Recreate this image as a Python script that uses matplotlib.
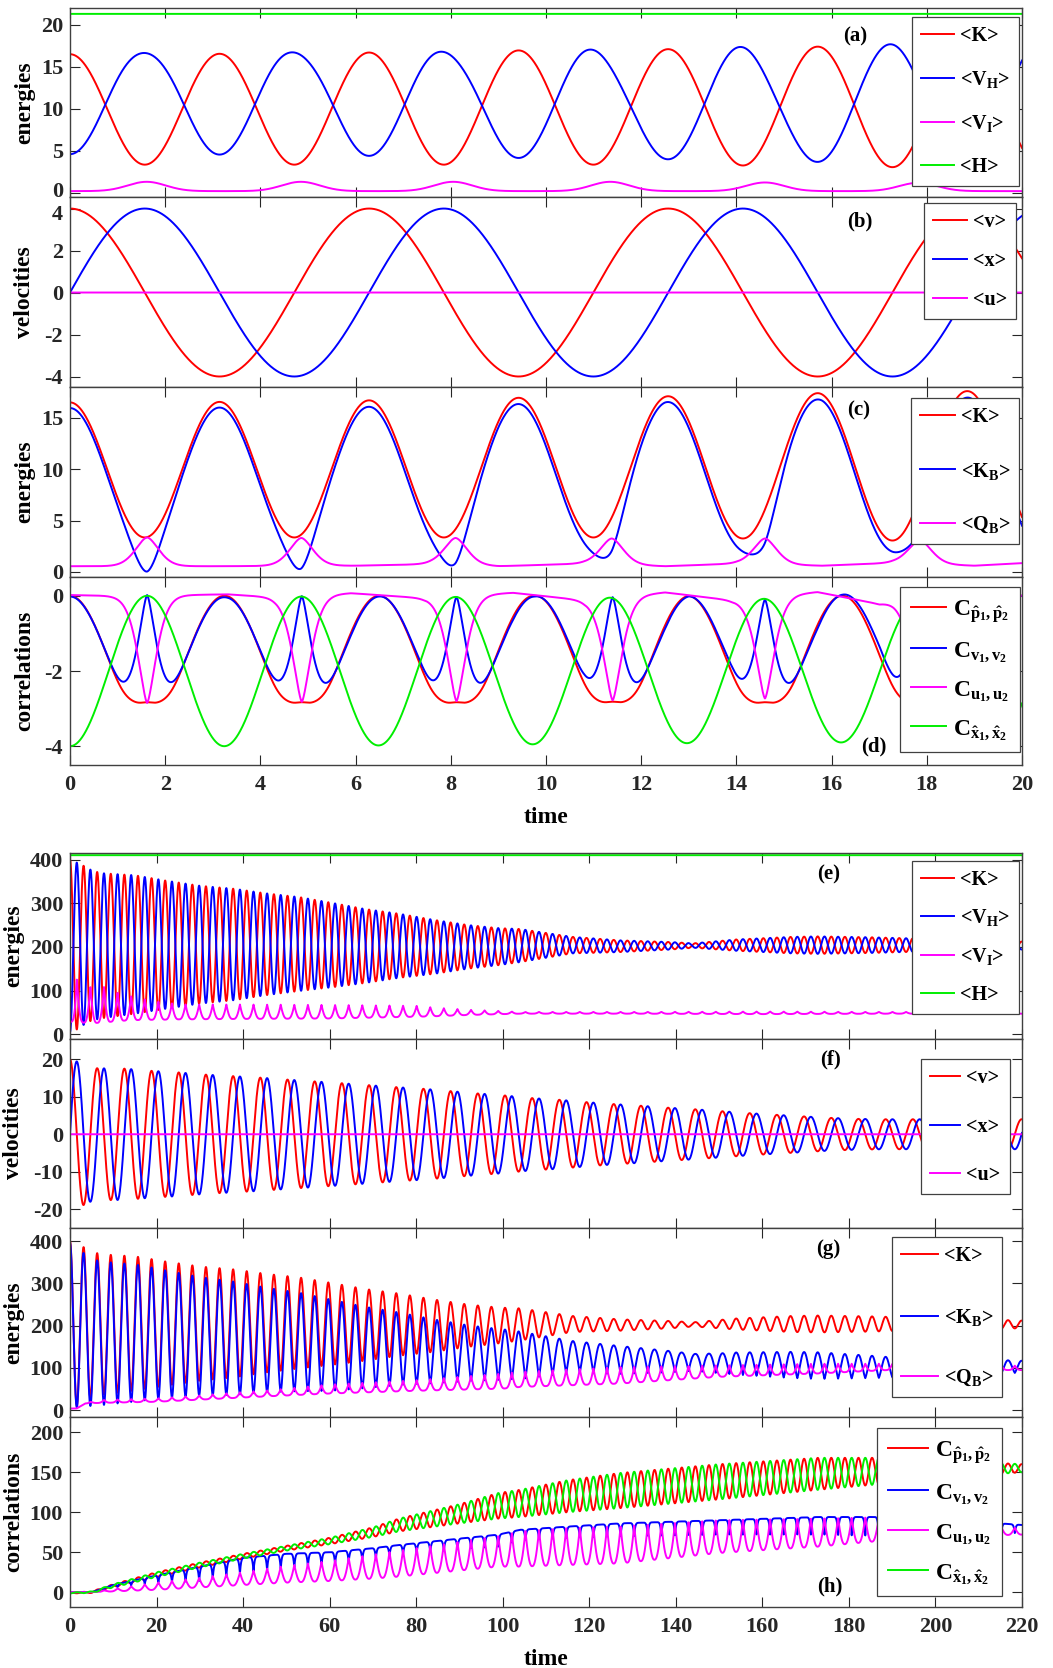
import numpy as np
import matplotlib
matplotlib.use('Agg')
import matplotlib.pyplot as plt
from matplotlib.transforms import ScaledTranslation

plt.rcParams['font.family'] = ['Liberation Serif', 'DejaVu Serif']
plt.rcParams['font.weight'] = 'bold'
plt.rcParams['mathtext.fontset'] = 'custom'
plt.rcParams['mathtext.rm'] = 'Liberation Serif:bold'
plt.rcParams['mathtext.it'] = 'Liberation Serif:bold'
plt.rcParams['mathtext.bf'] = 'Liberation Serif:bold'
plt.rcParams['axes.unicode_minus'] = False

# ================= DATA =================
# ---- top group, t = 0..20 ----
H_top = 21.3
K_top_ext = [16.5, 3.35, 16.55, 3.35, 16.7, 3.35, 16.95, 3.35, 17.1, 3.25, 17.4, 3.05, 17.6, 2.9]  # at k*pi/2
VI_bump_t = [1.61, 4.85, 8.05, 11.35, 14.6, 17.82]
VI_bump_v = [1.31, 1.31, 1.31, 1.31, 1.23, 1.19]
VI_base = 0.2
v_ext = [4.0, -4.0, 4.0, -4.0, 4.0, -4.0, 4.0, -4.0]          # at k*pi
x_ext = [-4.0, 4.0, -4.0, 4.0, -4.0, 4.0, -4.0, 4.0]          # at -pi/2 + k*pi
QB_peak_t = [1.62, 4.86, 8.1, 11.38, 14.6, 17.85]
QB_peak_v = [3.35, 3.3, 3.3, 3.25, 3.25, 3.1]
QB_base_t = [0, 3, 6, 7.6, 9.0, 10.8, 12.5, 14.0, 15.8, 17.3, 19.0, 20]
QB_base_v = [0.55, 0.55, 0.6, 0.75, 0.55, 0.8, 0.55, 0.8, 0.6, 0.87, 0.6, 0.85]
T_corr = 3.24
Cx_ext = [-4.0, 0.0, -4.0, -0.02, -3.98, -0.03, -3.95, -0.05, -3.92, -0.08, -3.9, -0.12, -3.85, -0.15]  # at k*T/2
Cp_plateau = [-3.0, -3.0, -3.0, -2.98, -3.0, -3.0]
Cu_dip_t = [1.62, 4.87, 8.12, 11.4, 14.6, 17.85]
Cu_dip_v = [-2.85, -2.82, -2.8, -2.78, -2.73, -2.7]
Cu_base_t = [0, 0.9, 2.4, 3.3, 4.3, 5.9, 7.4, 9.3, 10.8, 12.5, 13.9, 15.7, 17.0, 17.3, 19.2, 20]
Cu_base_v = [0.02, 0.0, 0.02, 0.04, -0.04, 0.07, -0.06, 0.08, -0.12, 0.09, -0.12, 0.1, -0.22, -0.16, 0.05, 0.0]

# ---- bottom group, t = 0..220 ----
H_bot = 410
env_t = [0, 1.6, 3.1, 4.7, 7, 15, 22, 30, 38, 45, 53, 61, 68, 76, 84, 92, 99, 104, 116, 127, 139, 144, 154, 167, 173, 185, 196, 208, 220]
E_top = [400, 393, 386, 377, 369, 364, 352, 340, 333, 323, 314, 300, 287, 276, 262, 250, 243, 241, 223, 215, 211, 208, 217, 223, 224, 222, 219, 216, 212]
E_bot = [5, 11, 21, 30, 36, 47, 58, 70, 78, 89, 99, 108, 117, 129, 138, 150, 158, 165, 185, 188, 194, 198, 191, 185, 184, 186, 189, 191, 194]
vi_t = [0, 1.6, 4.7, 7.9, 11, 14, 18, 21, 24, 27, 40, 60, 80, 84, 92, 100, 104, 130, 160, 190, 220]
vi_top = [32, 127, 108, 108, 95, 87, 78, 74, 70, 68, 68, 67, 65, 61, 56, 53, 51, 51, 52, 51, 51]
vi_bot = [28, 28, 25, 27, 30, 32, 33, 33, 34, 34, 35, 36, 40, 41, 44, 46, 47, 47, 46, 47, 47]
amp_t = [0, 1.6, 3.1, 4.7, 6.3, 12.6, 19, 25, 31.4, 37.7, 44, 50, 56.5, 63, 69, 75, 82, 88, 94, 100, 106, 113,
         119, 125, 132, 138, 144, 150, 156, 163, 169, 175, 182, 188, 194, 210, 220]
amp_v = [20, 19.4, 18.9, 18.0, 17.6, 17.5, 16.9, 16.5, 15.9, 15.5, 15.1, 14.6, 14.1, 13.6, 13.1, 12.6, 12.1, 11.5,
         10.9, 10.4, 9.7, 9.2, 8.6, 8.1, 7.6, 7.1, 6.7, 6.2, 5.7, 5.2, 4.8, 4.4, 4.1, 4.0, 4.0, 4.0, 4.0]
qb_t = [0, 1.5, 3.5, 6, 10, 20, 30, 40, 46, 60, 80, 100, 104, 127, 150, 173, 189, 205, 220]
qb_base = [4, 4, 16, 17, 18, 20, 25, 30, 33, 39.5, 46, 51, 55, 63, 79, 87, 95, 95, 95]
qb_peak = [4, 4, 16, 24, 25, 28, 35, 43, 47, 61, 71, 87, 91, 102, 106, 110, 110, 108, 105]
h_t = [0, 5, 10, 20, 30, 40, 50, 60, 70, 76, 90, 99, 104, 115, 127, 150, 173, 189, 205, 220]
pg_mid = [-1, 0, 8, 22, 34, 45, 55, 64, 75, 84, 98, 108, 111, 120, 127, 138, 148, 152, 154, 155]
pg_amp = [0.5, 1, 2, 3, 3, 3, 3, 4, 6, 8, 12, 16, 17, 20, 22, 22, 20, 16, 10, 5]
cv_top = [0, 0, 9, 21, 32, 43, 48, 50, 55, 59, 67, 72, 78, 82, 86, 90, 94, 94, 90, 84]
cv_dip = [0, 0, 6, 12, 14, 24, 30, 34, 42, 47, 54, 57, 65, 68, 70, 72, 72, 70, 72, 74]
cu_lo = [0, 0, 1, 3, 6, 9, 12, 14, 17, 19.5, 27, 32, 32, 34, 36, 49, 57, 65, 70, 72]
cu_hi = [0, 0, 4, 12, 18, 25, 33, 39, 47, 52, 63, 70, 76, 80, 82, 90, 92, 94, 86, 80]

# ================= curve construction =================
def through_extrema(t, te, ye):
    te = np.asarray(te, float); ye = np.asarray(ye, float)
    i = np.clip(np.searchsorted(te, t, side='right') - 1, 0, len(te) - 2)
    s = np.clip((t - te[i]) / (te[i + 1] - te[i]), 0, 1)
    return ye[i] + (ye[i + 1] - ye[i]) * (1 - np.cos(np.pi * s)) / 2

def nearest(t, centers):
    c = np.asarray(centers, float)
    j = np.argmin(np.abs(t[:, None] - c[None, :]), axis=1)
    return j, t - c[j]

t1 = np.linspace(0, 20, 5000)
K1 = through_extrema(t1, np.arange(len(K_top_ext)) * np.pi / 2, K_top_ext)
j, d = nearest(t1, VI_bump_t)
VI1 = VI_base + (np.asarray(VI_bump_v)[j] - VI_base) * np.exp(-d ** 2 / (2 * 0.4 ** 2))
VH1 = H_top - K1 - VI1
v1 = through_extrema(t1, np.arange(len(v_ext)) * np.pi, v_ext)
x1 = through_extrema(t1, -np.pi / 2 + np.arange(len(x_ext)) * np.pi, x_ext)
u1 = np.zeros_like(t1)
j, d = nearest(t1, QB_peak_t)
qbase = np.interp(t1, QB_base_t, QB_base_v)
QB1 = qbase + (np.asarray(QB_peak_v)[j] - qbase) * np.exp(-(np.abs(d) / 0.35) ** 1.7)
KB1 = K1 - QB1
Cx1 = through_extrema(t1, np.arange(len(Cx_ext)) * T_corr / 2, Cx_ext)
j, d = nearest(t1, Cu_dip_t)
phi = np.clip(np.abs(d) / (T_corr / 2), 0, 1)
raw = 3.38 * (1 + np.cos(np.pi * phi)) / 2 + 1e-9
P = -np.asarray(Cp_plateau)[j]
Cp1 = -(raw ** -8 + P ** -8) ** (-1 / 8) + 0.05 * np.exp(-(d / 0.15) ** 2)
cbase = np.interp(t1, Cu_base_t, Cu_base_v)
Cu1 = cbase + (np.asarray(Cu_dip_v)[j] - cbase) * np.exp(-(np.abs(d) / 0.28) ** 1.5)
Cv1 = Cp1 - Cu1

t2 = np.linspace(0, 220, 30000)
mid = (np.interp(t2, env_t, E_top) + np.interp(t2, env_t, E_bot)) / 2
half = (np.interp(t2, env_t, E_top) - np.interp(t2, env_t, E_bot)) / 2
K2 = mid + half * np.cos(2 * t2)
VH2 = mid - half * np.cos(2 * t2)
cusp = 1 - np.abs(np.cos(t2))
VI2 = np.interp(t2, vi_t, vi_bot) + (np.interp(t2, vi_t, vi_top) - np.interp(t2, vi_t, vi_bot)) * cusp ** 1.5
A2 = np.interp(t2, amp_t, amp_v)
v2 = A2 * np.cos(t2)
x2 = A2 * np.sin(t2)
u2 = np.zeros_like(t2)
QB2 = np.interp(t2, qb_t, qb_base) + (np.interp(t2, qb_t, qb_peak) - np.interp(t2, qb_t, qb_base)) * cusp ** 1.5
KB2 = K2 - QB2
m = np.interp(t2, h_t, pg_mid); a = np.interp(t2, h_t, pg_amp)
Cp2 = m + a * np.cos(2 * t2)
Cx2 = m - a * np.cos(2 * t2)
Cv2 = np.interp(t2, h_t, cv_top) - (np.interp(t2, h_t, cv_top) - np.interp(t2, h_t, cv_dip)) * cusp ** 4
Cu2 = np.interp(t2, h_t, cu_lo) + (np.interp(t2, h_t, cu_hi) - np.interp(t2, h_t, cu_lo)) * cusp ** 1.2

# ================= figure =================
W, H = 1053, 1668
fig = plt.figure(figsize=(W / 100, H / 100), dpi=100)
L, R = 70, 1022
def mkax(top, bot):
    return fig.add_axes([L / W, 1 - bot / H, (R - L) / W, (bot - top) / H])

RED, BLUE, MAG, GRN = '#ff0000', '#0000ff', '#ff00ff', '#00ee00'
SP = '#404040'
lw = 1.4
rows = [(8, 197), (197, 387), (387, 577), (577, 765), (853, 1039), (1039, 1228), (1228, 1417), (1417, 1607)]
axes = [mkax(a, b) for a, b in rows]

TICKFS = 16
YLFS = 17
LFS = 14.5

def style(ax, xlim, xticks, ylim, yticks, showx):
    ax.set_xlim(*xlim); ax.set_ylim(*ylim)
    ax.set_xticks(xticks); ax.set_yticks(yticks)
    ax.tick_params(direction='in', length=7, width=0.8, top=True, right=True, labelsize=TICKFS,
                   colors='#262626')
    ax.tick_params(axis='y', pad=5)
    ax.tick_params(axis='x', pad=7, labelbottom=showx)
    for s in ax.spines.values():
        s.set_color(SP); s.set_linewidth(1.0)
    for lab in ax.get_xticklabels() + ax.get_yticklabels():
        lab.set_fontweight('bold')

def leg(ax, labels, anchor, fs, ls, hl):
    lg = ax.legend(labels, loc='upper right', bbox_to_anchor=anchor, borderaxespad=0, fontsize=fs,
                   labelspacing=ls, handlelength=hl, handletextpad=0.3, borderpad=0.45,
                   fancybox=False, edgecolor=SP, framealpha=1)
    lg.get_frame().set_linewidth(0.9)

def plab(ax, s, x, y):
    ax.text(x, y, s, transform=ax.transAxes, ha='center', va='center', fontsize=15, fontweight='bold')

top_xt = np.arange(0, 21, 2)
bot_xt = np.arange(0, 221, 20)

# (a)
ax = axes[0]
ax.plot(t1, K1, color=RED, lw=lw); ax.plot(t1, VH1, color=BLUE, lw=lw)
ax.plot(t1, VI1, color=MAG, lw=lw); ax.plot(t1, np.full_like(t1, H_top), color=GRN, lw=lw)
style(ax, (0, 20), top_xt, (-0.5, 22), [0, 5, 10, 15, 20], False)
leg(ax, ['<K>', r'<$V_H$>', r'<$V_I$>', '<H>'], (0.997, 0.954), LFS, 1.14, 1.65)
plab(ax, '(a)', 0.825, 0.848)
ax.set_ylabel('energies', fontsize=YLFS, fontweight='bold')

# (b)
ax = axes[1]
ax.plot(t1, v1, color=RED, lw=lw); ax.plot(t1, x1, color=BLUE, lw=lw); ax.plot(t1, u1, color=MAG, lw=lw)
style(ax, (0, 20), top_xt, (-4.5, 4.55), [-4, -2, 0, 2, 4], False)
leg(ax, ['<v>', '<x>', '<u>'], (0.994, 0.97), LFS, 0.96, 1.7)
plab(ax, '(b)', 0.830, 0.87)
ax.set_ylabel('velocities', fontsize=YLFS, fontweight='bold')

# (c)
ax = axes[2]
ax.plot(t1, K1, color=RED, lw=lw); ax.plot(t1, KB1, color=BLUE, lw=lw); ax.plot(t1, QB1, color=MAG, lw=lw)
style(ax, (0, 20), top_xt, (-0.5, 18), [0, 5, 10, 15], False)
leg(ax, ['<K>', r'<$K_B$>', r'<$Q_B$>'], (0.997, 0.941), LFS, 1.65, 1.7)
plab(ax, '(c)', 0.828, 0.879)
ax.set_ylabel('energies', fontsize=YLFS, fontweight='bold')

# (d)
ax = axes[3]
ax.plot(t1, Cp1, color=RED, lw=lw); ax.plot(t1, Cv1, color=BLUE, lw=lw)
ax.plot(t1, Cu1, color=MAG, lw=lw); ax.plot(t1, Cx1, color=GRN, lw=lw)
style(ax, (0, 20), top_xt, (-4.5, 0.5), [-4, -2, 0], True)
leg(ax, [r'$C_{\hat{p}_1,\hat{p}_2}$', r'$C_{v_1,v_2}$', r'$C_{u_1,u_2}$', r'$C_{\hat{x}_1,\hat{x}_2}$'],
    (0.998, 0.945), 17, 0.63, 1.5)
plab(ax, '(d)', 0.844, 0.097)
ax.set_ylabel('correlations', fontsize=YLFS, fontweight='bold')
ax.set_xlabel('time', fontsize=17, fontweight='bold', labelpad=9)

# (e)
ax = axes[4]
ax.plot(t2, K2, color=RED, lw=lw); ax.plot(t2, VH2, color=BLUE, lw=lw)
ax.plot(t2, VI2, color=MAG, lw=lw); ax.plot(t2, np.full_like(t2, H_bot), color=GRN, lw=lw)
style(ax, (0, 220), bot_xt, (-11, 415), [0, 100, 200, 300, 400], False)
leg(ax, ['<K>', r'<$V_H$>', r'<$V_I$>', '<H>'], (0.997, 0.959), LFS, 0.88, 1.65)
plab(ax, '(e)', 0.797, 0.882)
ax.set_ylabel('energies', fontsize=YLFS, fontweight='bold')

# (f)
ax = axes[5]
ax.plot(t2, v2, color=RED, lw=lw); ax.plot(t2, x2, color=BLUE, lw=lw); ax.plot(t2, u2, color=MAG, lw=lw)
style(ax, (0, 220), bot_xt, (-25, 25.4), [-20, -10, 0, 10, 20], False)
leg(ax, ['<v>', '<x>', '<u>'], (0.987, 0.894), LFS, 1.42, 1.5)
plab(ax, '(f)', 0.799, 0.889)
ax.set_ylabel('velocities', fontsize=YLFS, fontweight='bold')

# (g)
ax = axes[6]
ax.plot(t2, K2, color=RED, lw=lw); ax.plot(t2, KB2, color=BLUE, lw=lw); ax.plot(t2, QB2, color=MAG, lw=lw)
style(ax, (0, 220), bot_xt, (-16, 431), [0, 100, 200, 300, 400], False)
leg(ax, ['<K>', r'<$K_B$>', r'<$Q_B$>'], (0.979, 0.951), LFS, 2.0, 1.8)
plab(ax, '(g)', 0.796, 0.887)
ax.set_ylabel('energies', fontsize=YLFS, fontweight='bold')

# (h)
ax = axes[7]
ax.plot(t2, Cp2, color=RED, lw=lw); ax.plot(t2, Cv2, color=BLUE, lw=lw)
ax.plot(t2, Cu2, color=MAG, lw=lw); ax.plot(t2, Cx2, color=GRN, lw=lw)
style(ax, (0, 220), bot_xt, (-18.5, 219), [0, 50, 100, 150, 200], True)
leg(ax, [r'$C_{\hat{p}_1,\hat{p}_2}$', r'$C_{v_1,v_2}$', r'$C_{u_1,u_2}$', r'$C_{\hat{x}_1,\hat{x}_2}$'],
    (0.979, 0.941), 17, 0.67, 1.7)
plab(ax, '(h)', 0.798, 0.107)
ax.set_ylabel('correlations', fontsize=YLFS, fontweight='bold')
ax.set_xlabel('time', fontsize=17, fontweight='bold', labelpad=9)

for i, ax in enumerate(axes):
    ax.yaxis.set_label_coords(-0.037 if i < 4 else -0.048, 0.5)

# nudge the two touching tick labels at the (a)/(b) boundary apart slightly
lab0 = axes[0].get_yticklabels()[0]
lab0.set_transform(lab0.get_transform() + ScaledTranslation(0, 2.5 / 72, fig.dpi_scale_trans))
lab4 = axes[1].get_yticklabels()[-1]
lab4.set_transform(lab4.get_transform() + ScaledTranslation(0, -2.5 / 72, fig.dpi_scale_trans))

fig.savefig('out.png', dpi=100)
